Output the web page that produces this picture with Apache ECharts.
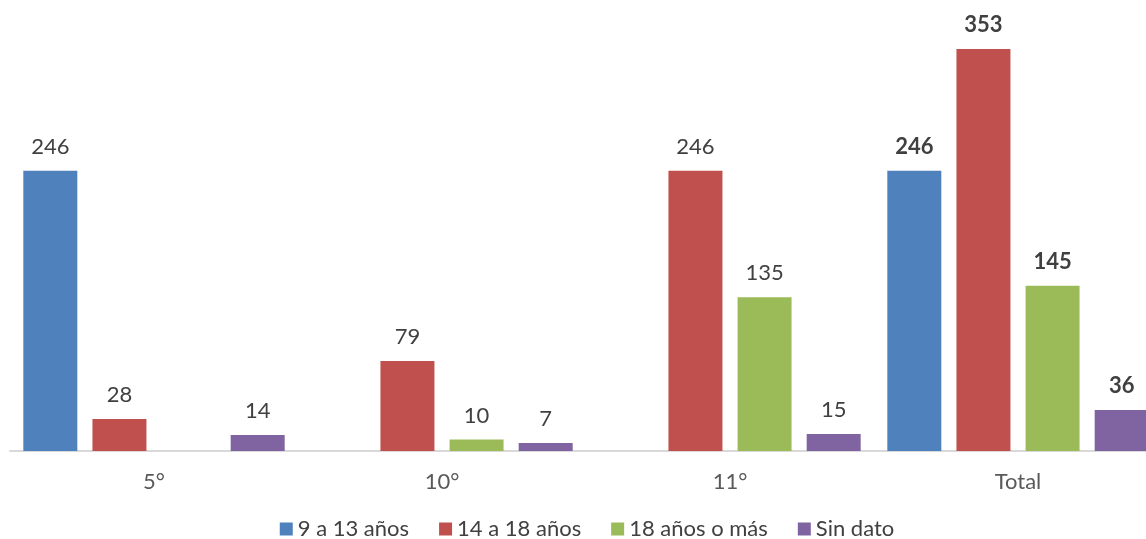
<!DOCTYPE html>
<html>
<head>
<meta charset="utf-8">
<script src="https://cdn.jsdelivr.net/npm/echarts@6/dist/echarts.min.js"></script>
<style>
  html, body { margin: 0; padding: 0; background: #fff; overflow: hidden; }
  /* el grafico original se corta por la derecha */
  #chart { width: 1174px; height: 539px; }
</style>
</head>
<body>
<div id="chart"></div>
<script>
  // datos
  var categories = ['5°', '10°', '11°', 'Total']
  var seriesNames = ['9 a 13 años', '14 a 18 años', '18 años o más', 'Sin dato']
  var edad9a13 = [246, null, null, 246]
  var edad14a18 = [28, 79, 246, 353]
  var edad18mas = [null, 10, 135, 145]
  var sinDato = [14, 7, 15, 36]
  var colors = ['#4f81bd', '#c0504d', '#9bbb59', '#8064a2']

  var font = 'Lato, "Open Sans", sans-serif'

  function makeSeries(name, values, color) {
    return {
      name: name,
      type: 'bar',
      barWidth: 54,
      barGap: '28%',
      itemStyle: { color: color },
      label: {
        show: true,
        position: 'top',
        distance: 13,
        color: '#404040',
        fontFamily: font,
        fontSize: 22,
        formatter: function (p) { return p.value == null ? '' : p.value }
      },
      // la columna Total va en negrita
      data: values.map(function (v, i) {
        if (i === categories.length - 1) {
          return { value: v, label: { fontWeight: 'bold' } }
        }
        return v
      })
    }
  }

  var chart = echarts.init(document.getElementById('chart'))
  chart.setOption({
    animation: false,
    color: colors,
    grid: {
      left: 10,
      right: 12,
      top: 0,
      bottom: 88
    },
    legend: {
      top: 513,
      left: 'center',
      itemWidth: 13,
      itemHeight: 13,
      itemGap: 30,
      icon: 'rect',
      textStyle: { color: '#404040', fontFamily: font, fontSize: 22 },
      data: seriesNames
    },
    xAxis: {
      type: 'category',
      data: categories,
      axisLine: { lineStyle: { color: '#d9d9d9', width: 2 } },
      axisTick: { show: false },
      axisLabel: { color: '#595959', fontFamily: font, fontSize: 22, margin: 20 }
    },
    yAxis: {
      type: 'value',
      min: 0,
      max: 396,
      show: false,
      splitLine: { show: false }
    },
    series: [
      makeSeries(seriesNames[0], edad9a13, colors[0]),
      makeSeries(seriesNames[1], edad14a18, colors[1]),
      makeSeries(seriesNames[2], edad18mas, colors[2]),
      makeSeries(seriesNames[3], sinDato, colors[3])
    ]
  })
</script>
</body>
</html>
